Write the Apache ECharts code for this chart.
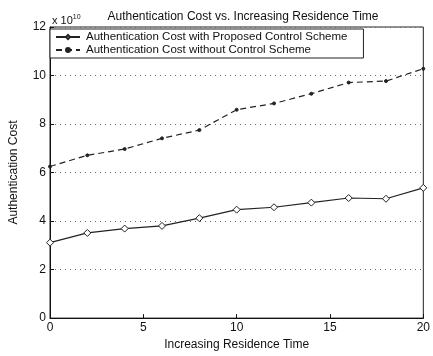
<!DOCTYPE html>
<html><head><meta charset="utf-8">
<script src="https://cdn.jsdelivr.net/npm/echarts@6/dist/echarts.min.js"></script>
<style>html,body{margin:0;padding:0;background:#fff}#c{width:433px;height:356px}</style>
</head><body><div id="c"></div>
<script>
// values in units of 1e10
const residenceTime = [0, 2, 4, 6, 8, 10, 12, 14, 16, 18, 20];
const costProposed = [3.11, 3.51, 3.69, 3.80, 4.12, 4.47, 4.57, 4.76, 4.95, 4.92, 5.37];
const costWithout = [6.25, 6.71, 6.97, 7.41, 7.75, 8.59, 8.85, 9.25, 9.71, 9.77, 10.28];
const yTicks = [0, 2, 4, 6, 8, 10, 12];
const xTicks = [0, 5, 10, 15, 20];
const seriesNames = ['Authentication Cost with Proposed Control Scheme', 'Authentication Cost without Control Scheme'];

const font = 'Liberation Sans, Arial, sans-serif';
const chart = echarts.init(document.getElementById('c'), null, {renderer: 'canvas'});
const pair = (xs, ys) => xs.map((x, i) => [x, ys[i]]);
chart.setOption({
  animation: false,
  backgroundColor: '#fff',
  title: [
    {text: 'Authentication Cost vs. Increasing Residence Time', left: 238, textAlign: 'center', top: 6,
     textStyle: {fontFamily: font, fontSize: 12, fontWeight: 'normal', color: '#111'}},
    {text: 'x 10{s|10}', left: 47, top: 9,
     textStyle: {fontFamily: font, fontSize: 11, fontWeight: 'normal', color: '#111', rich: {s: {fontSize: 7, verticalAlign: 'top', padding: [0,0,6,0], fontFamily: font, color: '#111'}}}}
  ],
  grid: {left: 49, right: 2, top: 27, bottom: 29, show: true, borderColor: '#222', borderWidth: 1},
  legend: {
    orient: 'vertical', left: 50, top: 29,
    backgroundColor: '#fff', borderColor: '#222', borderWidth: 1, borderRadius: 0,
    padding: [2, 16, 2, 5], itemGap: 1, itemWidth: 24, itemHeight: 5,
    textStyle: {fontFamily: font, fontSize: 11.5, color: '#111', padding: [0, 0, 0, 1]},
    data: seriesNames
  },
  xAxis: {
    type: 'value', min: 0, max: 20, interval: 5,
    name: 'Increasing Residence Time', nameLocation: 'middle', nameGap: 19,
    nameTextStyle: {fontFamily: font, fontSize: 12, color: '#111'},
    axisLine: {lineStyle: {color: '#111'}},
    axisTick: {inside: true, length: 4, lineStyle: {color: '#111'}},
    axisLabel: {fontFamily: font, fontSize: 12, color: '#111', margin: 4,
      formatter: v => xTicks.includes(v) ? String(v) : ''},
    splitLine: {show: false}
  },
  yAxis: {
    type: 'value', min: 0, max: 12, interval: 2,
    name: 'Authentication Cost', nameLocation: 'middle', nameGap: 30,
    nameTextStyle: {fontFamily: font, fontSize: 12, color: '#111'},
    axisLine: {show: true, lineStyle: {color: '#111'}},
    axisTick: {show: true, inside: true, length: 4, lineStyle: {color: '#111'}},
    axisLabel: {fontFamily: font, fontSize: 12, color: '#111', margin: 4,
      formatter: v => yTicks.includes(v) ? String(v) : ''},
    splitLine: {show: true, lineStyle: {color: '#666', type: [1, 4], width: 1}}
  },
  series: [
    {name: seriesNames[0], type: 'line', data: pair(residenceTime, costProposed),
     symbol: 'diamond', symbolSize: 7, showAllSymbol: true,
     lineStyle: {color: '#222', width: 1.2},
     itemStyle: {color: '#fff', borderColor: '#222', borderWidth: 1}},
    {name: seriesNames[1], type: 'line', data: pair(residenceTime, costWithout),
     symbol: 'circle', symbolSize: 3, showAllSymbol: true,
     lineStyle: {color: '#222', width: 1.2, type: [6, 4]},
     itemStyle: {color: '#222', borderColor: '#222', borderWidth: 1}}
  ]
});
</script></body></html>
